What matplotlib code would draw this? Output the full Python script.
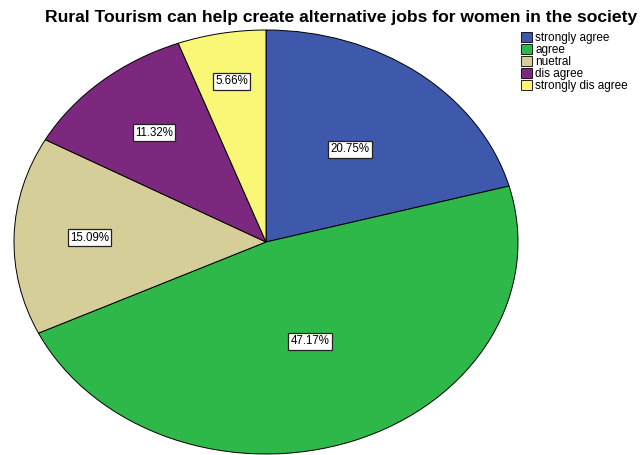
import numpy as np
from matplotlib import pyplot as plt
from matplotlib.patches import Patch

plt.rcParams['font.family'] = ['Liberation Sans', 'DejaVu Sans']

categories = ['strongly agree', 'agree', 'nuetral', 'dis agree', 'strongly dis agree']
percents = [20.75, 47.17, 15.09, 11.32, 5.66]
colors = ['#3e58ac', '#2eb84a', '#d5ce98', '#7c287e', '#faf676']
label_radius = [0.55, 0.50, 0.70, 0.68, 0.77]

fig = plt.figure(figsize=(6.44, 4.55), dpi=100)
ax = fig.add_axes([14 / 644, 1 / 455, 504 / 644, 424 / 455])

wedges, _ = ax.pie(percents, colors=colors, startangle=90, counterclock=False,
                   wedgeprops=dict(edgecolor='black', linewidth=0.7))
ax.set_aspect('auto')
ax.set_xlim(-1.0, 1.0)
ax.set_ylim(-1.0, 1.0)

for w, p, r in zip(wedges, percents, label_radius):
    ang = np.deg2rad((w.theta1 + w.theta2) / 2)
    ax.text(r * np.cos(ang), r * np.sin(ang), '%.2f%%' % p, ha='center', va='center',
            fontsize=8.3, bbox=dict(boxstyle='square,pad=0.2', fc='white', ec='#222222', lw=0.9))

fig.suptitle('Rural Tourism can help create alternative jobs for women in the society',
             x=0.53, y=0.978, fontsize=12.6, fontweight='bold')

handles = [Patch(facecolor=c, edgecolor='black', linewidth=0.6) for c in colors]
fig.legend(handles, categories, loc='upper left', bbox_to_anchor=(0.8, 0.942),
           frameon=False, fontsize=8.5, handlelength=0.9, handleheight=0.9,
           handletextpad=0.3, labelspacing=0.0, borderpad=0)

plt.savefig('out.png', dpi=100)
